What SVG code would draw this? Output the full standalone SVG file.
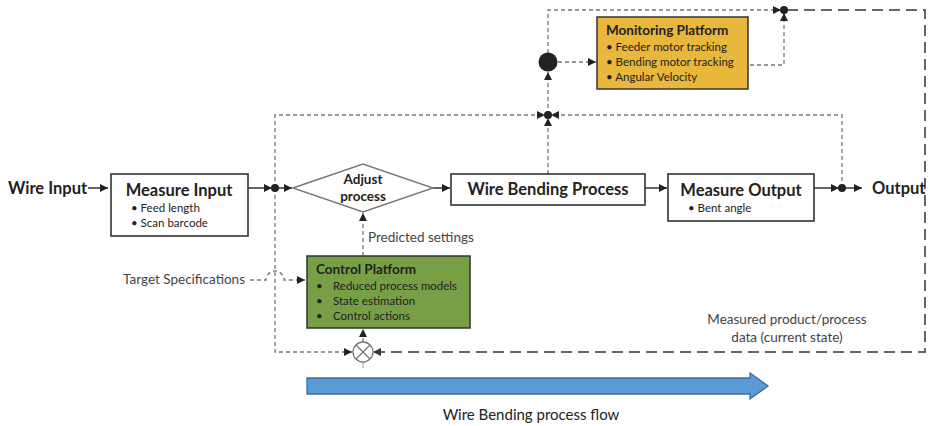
<svg xmlns="http://www.w3.org/2000/svg" width="932" height="426" viewBox="0 0 932 426">
  <defs>
    <marker id="arr" viewBox="0 0 10 10" refX="10" refY="5" markerWidth="8" markerHeight="8" markerUnits="userSpaceOnUse" orient="auto">
      <path d="M0,0 L10,5 L0,10 z" fill="#222"/>
    </marker>
    <marker id="arrg" viewBox="0 0 10 10" refX="10" refY="5" markerWidth="8" markerHeight="8" markerUnits="userSpaceOnUse" orient="auto">
      <path d="M0,0 L10,5 L0,10 z" fill="#333"/>
    </marker>
    <style>
      .t { font-family: Lato, "Open Sans", "Liberation Sans", Arial, sans-serif; fill: #222; }
      .b { font-weight: bold; }
      .box { fill: #fff; stroke: #333; stroke-width: 1.6; }
      .solid { stroke: #333; stroke-width: 1.5; fill: none; }
      .dash { stroke: #777; stroke-width: 1.3; stroke-dasharray: 4 3; fill: none; }
      .ldash { stroke: #666; stroke-width: 2; stroke-dasharray: 11 6; fill: none; }
      .dot { fill: #222; }
      .sm { font-size: 11.5px; }
      .lbl { font-size: 13.5px; fill: #444; }
    </style>
  </defs>

  <!-- connectors -->
  <g id="connectors">
    <!-- main flow -->
    <line class="solid" x1="88" y1="188" x2="108" y2="188" marker-end="url(#arr)"/>
    <line class="solid" x1="248" y1="188" x2="272" y2="188" marker-end="url(#arr)"/>
    <line class="solid" x1="275" y1="188" x2="292" y2="188" marker-end="url(#arr)"/>
    <line class="solid" x1="433" y1="188" x2="450" y2="188" marker-end="url(#arr)"/>
    <line class="solid" x1="645" y1="188" x2="667" y2="188" marker-end="url(#arr)"/>
    <line class="solid" x1="814" y1="188" x2="839" y2="188" marker-end="url(#arr)"/>
    <line class="solid" x1="842" y1="188" x2="862" y2="188" marker-end="url(#arr)"/>

    <!-- dashed monitoring loop -->
    <polyline class="dash" points="842,188 842,115 551,115" marker-end="url(#arr)"/>
    <polyline class="dash" points="275,188 275,115 545,115" marker-end="url(#arr)"/>
    <line class="dash" x1="548" y1="174" x2="548" y2="118" marker-end="url(#arr)"/>
    <line class="dash" x1="548" y1="115" x2="548" y2="72" marker-end="url(#arr)"/>
    <line class="dash" x1="558" y1="62" x2="596" y2="62" marker-end="url(#arr)"/>
    <polyline class="dash" points="548,53 548,10 781,10" marker-end="url(#arr)"/>
    <polyline class="dash" points="750,65 784,65 784,13" marker-end="url(#arr)"/>

    <!-- feedback to control -->
    <polyline class="ldash" points="787,10 925,10 925,352 373,352" marker-end="url(#arrg)"/>
    <polyline class="dash" points="275,188 275,352 352,352" marker-end="url(#arr)"/>
    <line class="dash" x1="363" y1="342" x2="363" y2="329" marker-end="url(#arr)"/>
    <line class="dash" x1="363" y1="256" x2="363" y2="213" marker-end="url(#arr)"/>

    <!-- target specs with hop over vertical line -->
    <path class="dash" d="M250,280 L266,280 A9,9 0 0 1 284,280 L305,280" marker-end="url(#arr)"/>

    <!-- junction dots -->
    <circle class="dot" cx="275" cy="188" r="4"/>
    <circle class="dot" cx="842" cy="188" r="4"/>
    <circle class="dot" cx="548" cy="115" r="4"/>
    <circle class="dot" cx="784" cy="10" r="4"/>
    <circle class="dot" cx="548" cy="62" r="9.5"/>

    <!-- summing junction -->
    <g id="sum">
      <circle cx="363" cy="352" r="10" fill="#fff" stroke="#777" stroke-width="1.3"/>
      <line x1="356" y1="345" x2="370" y2="359" stroke="#777" stroke-width="1.2"/>
      <line x1="370" y1="345" x2="356" y2="359" stroke="#777" stroke-width="1.2"/>
      <line x1="363" y1="362" x2="363" y2="368" stroke="#999" stroke-width="1"/>
    </g>
  </g>

  <!-- nodes -->
  <g id="wire-input">
    <text class="t b" x="8" y="194" font-size="16.5">Wire Input</text>
  </g>

  <g id="measure-input">
    <rect class="box" x="111" y="174" width="137" height="62"/>
    <text class="t b" x="179" y="196" font-size="16.5" text-anchor="middle">Measure Input</text>
    <text class="t sm" x="131" y="212">• Feed length</text>
    <text class="t sm" x="131" y="227">• Scan barcode</text>
  </g>

  <g id="adjust-process">
    <polygon points="293,188 363,164 433,188 363,212" fill="#fff" stroke="#777" stroke-width="1.4"/>
    <text class="t b" x="363" y="184" font-size="13.5" text-anchor="middle">Adjust</text>
    <text class="t b" x="363" y="201" font-size="13.5" text-anchor="middle">process</text>
  </g>

  <g id="wire-bending-process">
    <rect class="box" x="451" y="174" width="194" height="31"/>
    <text class="t b" x="548" y="195" font-size="16.5" text-anchor="middle">Wire Bending Process</text>
  </g>

  <g id="measure-output">
    <rect class="box" x="668" y="174" width="146" height="47"/>
    <text class="t b" x="741" y="196" font-size="16.5" text-anchor="middle">Measure Output</text>
    <text class="t sm" x="688" y="212">• Bent angle</text>
  </g>

  <g id="output">
    <text class="t b" x="872" y="194" font-size="16.5">Output</text>
  </g>

  <g id="monitoring-platform">
    <rect x="597" y="17" width="151" height="72" fill="#E8B73B" stroke="#333" stroke-width="1.5"/>
    <text class="t b" x="606" y="35" font-size="13.5">Monitoring Platform</text>
    <text class="t sm" x="606" y="51">• Feeder motor tracking</text>
    <text class="t sm" x="606" y="66">• Bending motor tracking</text>
    <text class="t sm" x="606" y="81">• Angular Velocity</text>
  </g>

  <g id="control-platform">
    <rect x="307" y="256" width="163" height="72" fill="#77A046" stroke="#333" stroke-width="1.5"/>
    <text class="t b" x="316" y="274" font-size="13.5">Control Platform</text>
    <text class="t sm" x="316" y="290">•</text>
    <text class="t sm" x="333" y="290">Reduced process models</text>
    <text class="t sm" x="316" y="305">•</text>
    <text class="t sm" x="333" y="305">State estimation</text>
    <text class="t sm" x="316" y="320">•</text>
    <text class="t sm" x="333" y="320">Control actions</text>
  </g>

  <g id="labels">
    <text class="t lbl" x="368" y="242">Predicted settings</text>
    <text class="t lbl" x="245" y="284" text-anchor="end">Target Specifications</text>
    <text class="t lbl" x="787" y="324" text-anchor="middle">Measured product/process</text>
    <text class="t lbl" x="787" y="342" text-anchor="middle">data (current state)</text>
  </g>

  <g id="process-flow">
    <path d="M307,378 L750,378 L750,373 L768,386 L750,399 L750,394 L307,394 Z" fill="#5B9BD5" stroke="#3E6E9C" stroke-width="1.3"/>
    <text class="t" x="531" y="420" font-size="15" fill="#333" text-anchor="middle">Wire Bending process flow</text>
  </g>
</svg>
